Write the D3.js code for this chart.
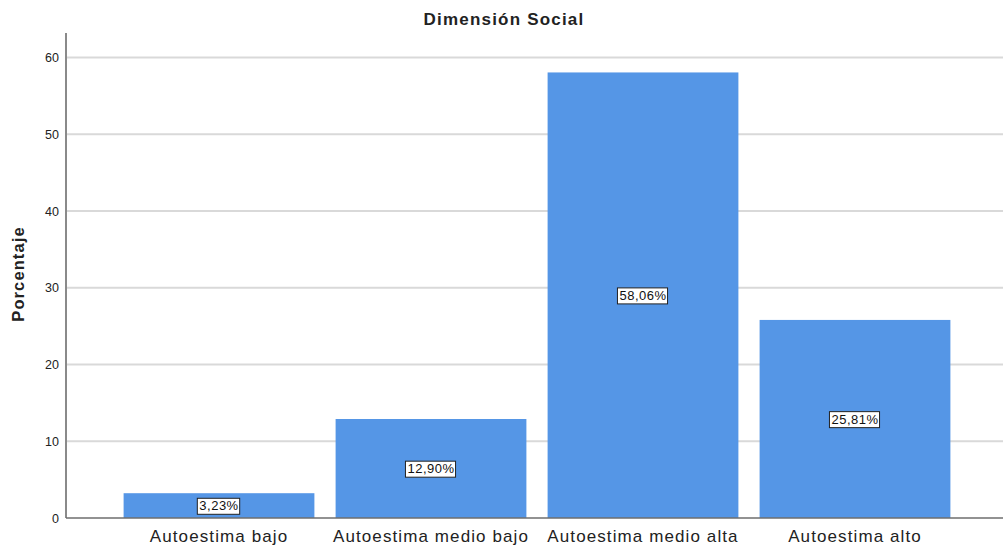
<!DOCTYPE html>
<html>
<head>
<meta charset="utf-8">
<script src="https://cdn.jsdelivr.net/npm/d3@7"></script>
<style>
  html, body { margin: 0; padding: 0; background: #fff; }
  svg { display: block; font-family: "Liberation Sans", Arial, sans-serif; }
</style>
</head>
<body>
<svg id="chart" width="1003" height="547"></svg>
<script>
// Distribución de la dimensión social
const categories = ["Autoestima bajo", "Autoestima medio bajo", "Autoestima medio alta", "Autoestima alto"];
const values = [3.23, 12.90, 58.06, 25.81];
const yTicks = [0, 10, 20, 30, 40, 50, 60];
const title = "Dimensión Social";
const yTitle = "Porcentaje";

const svg = d3.select("#chart");
const plot = { left: 66, right: 1003, top: 33, bottom: 518 };

const x = d3.scaleBand()
  .domain(categories)
  .range([113, 961])
  .paddingInner(0.1)
  .paddingOuter(0.05);

const y = d3.scaleLinear()
  .domain([0, 63.2])
  .range([plot.bottom, plot.top]);

// horizontal grid lines
svg.append("g")
  .selectAll("line")
  .data(yTicks.filter(d => d > 0))
  .join("line")
  .attr("x1", plot.left)
  .attr("x2", plot.right)
  .attr("y1", d => y(d))
  .attr("y2", d => y(d))
  .attr("stroke", "#d9d9d9")
  .attr("stroke-width", 2);

// bars
svg.append("g")
  .selectAll("rect")
  .data(values)
  .join("rect")
  .attr("x", (d, i) => x(categories[i]))
  .attr("width", x.bandwidth())
  .attr("y", d => y(d))
  .attr("height", d => y(0) - y(d))
  .attr("fill", "#5596e6");

// y axis
const yAxis = svg.append("g")
  .attr("transform", `translate(${plot.left},0)`)
  .call(d3.axisLeft(y).tickValues(yTicks).tickSize(0).tickPadding(7));
yAxis.select(".domain").remove();
yAxis.selectAll("text")
  .attr("font-size", 12.5)
  .attr("fill", "#222")
  .style("font-family", "'Liberation Sans', Arial, sans-serif");
svg.append("line")
  .attr("x1", plot.left).attr("x2", plot.left)
  .attr("y1", plot.top).attr("y2", plot.bottom)
  .attr("stroke", "#8a8a8a").attr("stroke-width", 2);

// x axis
const xAxis = svg.append("g")
  .attr("transform", `translate(0,${plot.bottom})`)
  .call(d3.axisBottom(x).tickSize(0).tickPadding(12));
xAxis.select(".domain").remove();
xAxis.selectAll("text")
  .attr("font-size", 17)
  .attr("letter-spacing", 1.1)
  .attr("fill", "#222")
  .style("font-family", "'Liberation Sans', Arial, sans-serif");
svg.append("line")
  .attr("x1", plot.left).attr("x2", plot.right)
  .attr("y1", plot.bottom).attr("y2", plot.bottom)
  .attr("stroke", "#6e6e6e").attr("stroke-width", 1.5);

// value labels
const fmt = v => v.toFixed(2).replace(".", ",") + "%";
const labels = svg.append("g")
  .selectAll("g")
  .data(values)
  .join("g")
  .attr("transform", (d, i) => {
    const cy = Math.min(y(d / 2), y(0) - 10);
    return `translate(${x(categories[i]) + x.bandwidth() / 2},${cy})`;
  });
labels.append("text")
  .attr("text-anchor", "middle")
  .attr("dy", "0.36em")
  .attr("font-size", 13)
  .attr("letter-spacing", 0.5)
  .attr("fill", "#111")
  .text(fmt);
labels.each(function() {
  const g = d3.select(this);
  const bb = g.select("text").node().getBBox();
  g.insert("rect", "text")
    .attr("x", bb.x - 2)
    .attr("y", bb.y)
    .attr("width", bb.width + 3)
    .attr("height", bb.height + 1)
    .attr("fill", "#fff")
    .attr("stroke", "#222")
    .attr("stroke-width", 1);
});

// titles
svg.append("text")
  .attr("x", 504).attr("y", 25)
  .attr("text-anchor", "middle")
  .attr("font-size", 17)
  .attr("letter-spacing", 1.2)
  .attr("font-weight", "bold")
  .attr("fill", "#222")
  .text(title);

svg.append("text")
  .attr("transform", "translate(24,274) rotate(-90)")
  .attr("text-anchor", "middle")
  .attr("font-size", 16.5)
  .attr("letter-spacing", 1.1)
  .attr("font-weight", "bold")
  .attr("fill", "#222")
  .text(yTitle);
</script>
</body>
</html>
